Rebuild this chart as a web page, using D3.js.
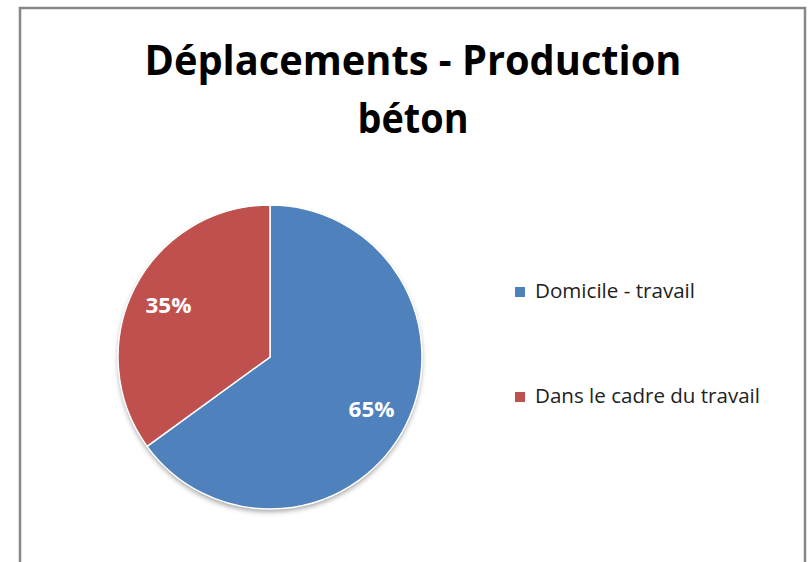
<!DOCTYPE html>
<html>
<head>
<meta charset="utf-8">
<script src="https://cdn.jsdelivr.net/npm/d3@7"></script>
<style>
  body { margin: 0; background: #fff; }
  svg { display: block; }
</style>
</head>
<body>
<svg></svg>
<script>
// DATA
let categories = ["Domicile - travail", "Dans le cadre du travail"];
let shares = [65, 35];
let titleLines = ["Déplacements - Production", "béton"];

// PAGE SETUP
let width = 809, height = 562;
let svg = d3.select("svg").attr("width", width).attr("height", height);

let colorScale = d3.scaleOrdinal()
  .domain(categories)
  .range(["#4F81BD", "#C0504D"]);

// chart frame
svg.append("rect")
  .attr("x", 20).attr("y", 8)
  .attr("width", 785).attr("height", 600)
  .attr("fill", "#fff")
  .attr("stroke", "#878787")
  .attr("stroke-width", 2.5);

// TITLE
let titleWidths = [537, 111];
svg.selectAll(".title")
  .data(titleLines)
  .enter()
  .append("text")
  .attr("class", "title")
  .attr("x", 413)
  .attr("y", (d, i) => 75 + i * 58)
  .attr("text-anchor", "middle")
  .attr("font-family", "'Open Sans', sans-serif")
  .attr("font-weight", "bold")
  .attr("font-size", 42)
  .attr("fill", "#000")
  .attr("textLength", (d, i) => titleWidths[i])
  .attr("lengthAdjust", "spacingAndGlyphs")
  .text(d => d);

// PIE
let cx = 270, cy = 357, radius = 152;

let defs = svg.append("defs");
let shadow = defs.append("filter").attr("id", "shadow")
  .attr("x", "-20%").attr("y", "-20%").attr("width", "140%").attr("height", "140%");
shadow.append("feDropShadow")
  .attr("dx", 0).attr("dy", 3).attr("stdDeviation", 2.5)
  .attr("flood-color", "#000").attr("flood-opacity", 0.35);

let pie = d3.pie().sort(null).value(d => d);
let arcs = pie(shares);
let arc = d3.arc().innerRadius(0).outerRadius(radius);
let labelArc = d3.arc().innerRadius(radius * 0.75).outerRadius(radius * 0.75);

let g = svg.append("g").attr("transform", `translate(${cx},${cy})`);

g.append("circle")
  .attr("r", radius)
  .attr("fill", "#fff")
  .attr("filter", "url(#shadow)");

g.selectAll(".slice")
  .data(arcs)
  .enter()
  .append("path")
  .attr("class", "slice")
  .attr("d", arc)
  .attr("fill", (d, i) => colorScale(categories[i]))
  .attr("stroke", "#fff")
  .attr("stroke-width", 1.5);

g.selectAll(".pct")
  .data(arcs)
  .enter()
  .append("text")
  .attr("class", "pct")
  .attr("transform", d => `translate(${labelArc.centroid(d)})`)
  .attr("text-anchor", "middle")
  .attr("dy", "0.36em")
  .attr("font-family", "'Open Sans', sans-serif")
  .attr("font-weight", "bold")
  .attr("font-size", 22)
  .attr("fill", "#fff")
  .attr("textLength", 46)
  .attr("lengthAdjust", "spacingAndGlyphs")
  .text(d => d.value + "%");

// LEGEND
let legendWidths = [160, 225];
let legend = svg.selectAll(".legend-item")
  .data(categories)
  .enter()
  .append("g")
  .attr("class", "legend-item")
  .attr("transform", (d, i) => `translate(515,${287 + i * 105})`);

legend.append("rect")
  .attr("width", 10).attr("height", 10)
  .attr("fill", d => colorScale(d));

legend.append("text")
  .attr("x", 20)
  .attr("y", 11)
  .attr("font-family", "'Open Sans', sans-serif")
  .attr("font-size", 19.5)
  .attr("fill", "#222")
  .attr("textLength", (d, i) => legendWidths[i])
  .attr("lengthAdjust", "spacingAndGlyphs")
  .text(d => d);
</script>
</body>
</html>
